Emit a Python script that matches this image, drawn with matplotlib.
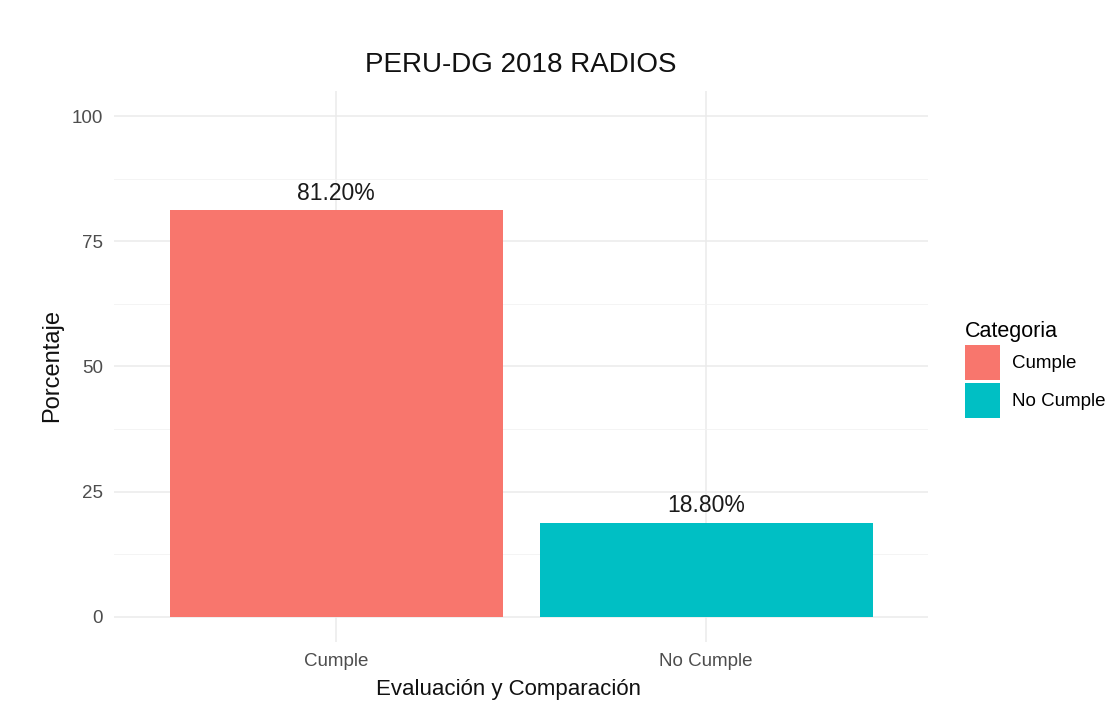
import matplotlib.pyplot as plt
from matplotlib.patches import Patch

plt.rcParams['font.family'] = ['Liberation Sans', 'DejaVu Sans']

categorias = ['Cumple', 'No Cumple']
porcentaje = [81.2, 18.8]
colores = ['#F8766D', '#00BFC4']

W, H = 1114, 706
fig = plt.figure(figsize=(W / 100, H / 100), dpi=100)
ax = fig.add_axes([114 / W, 1 - 642 / H, (928 - 114) / W, (642 - 91) / H])

x = list(range(1, len(categorias) + 1))
ax.bar(x, porcentaje, width=0.9, color=colores, zorder=3)

# etiquetas de porcentaje encima de cada barra
for xi, v in zip(x, porcentaje):
    ax.annotate('%.2f%%' % v, (xi, v), xytext=(0, 4), textcoords='offset points',
                ha='center', va='bottom', fontsize=16.5, color='#1a1a1a', zorder=4)

ax.set_xlim(0.4, 2.6)
ax.set_ylim(-5, 105)
ax.set_yticks([0, 25, 50, 75, 100])
ax.set_yticks([12.5, 37.5, 62.5, 87.5], minor=True)
ax.set_xticks(x)
ax.set_xticklabels(categorias)

ax.grid(which='major', color='#ebebeb', linewidth=1.1, zorder=0)
ax.grid(which='minor', axis='y', color='#f2f2f2', linewidth=0.6, zorder=0)
for s in ax.spines.values():
    s.set_visible(False)
ax.tick_params(which='both', length=0, labelsize=13.5, labelcolor='#4d4d4d')
ax.tick_params(axis='x', pad=8)
ax.tick_params(axis='y', pad=8)

fig.text(521 / W, 1 - 65 / H, 'PERU-DG 2018 RADIOS', fontsize=20,
         ha='center', va='center', color='#111111')
ax.set_ylabel('Porcentaje', fontsize=17, va='center', color='#111111')
ax.yaxis.set_label_coords((52 - 114) / 814, (642 - 365) / 551)
ax.set_xlabel('Evaluación y Comparación', fontsize=16, va='center', color='#111111')
ax.xaxis.set_label_coords((508 - 114) / 814, (642 - 690) / 551)

handles = [Patch(facecolor=c, edgecolor='none') for c in colores]
fig.legend(handles, categorias, title='Categoria', loc='upper left',
           bbox_to_anchor=(956 / W, 1 - 312 / H), frameon=False, borderpad=0,
           fontsize=13.5, title_fontsize=15.5, handlelength=1.87, handleheight=2.5,
           handletextpad=0.6, labelspacing=0.15, alignment='left')

fig.savefig('out.png', dpi=100, facecolor='white')
